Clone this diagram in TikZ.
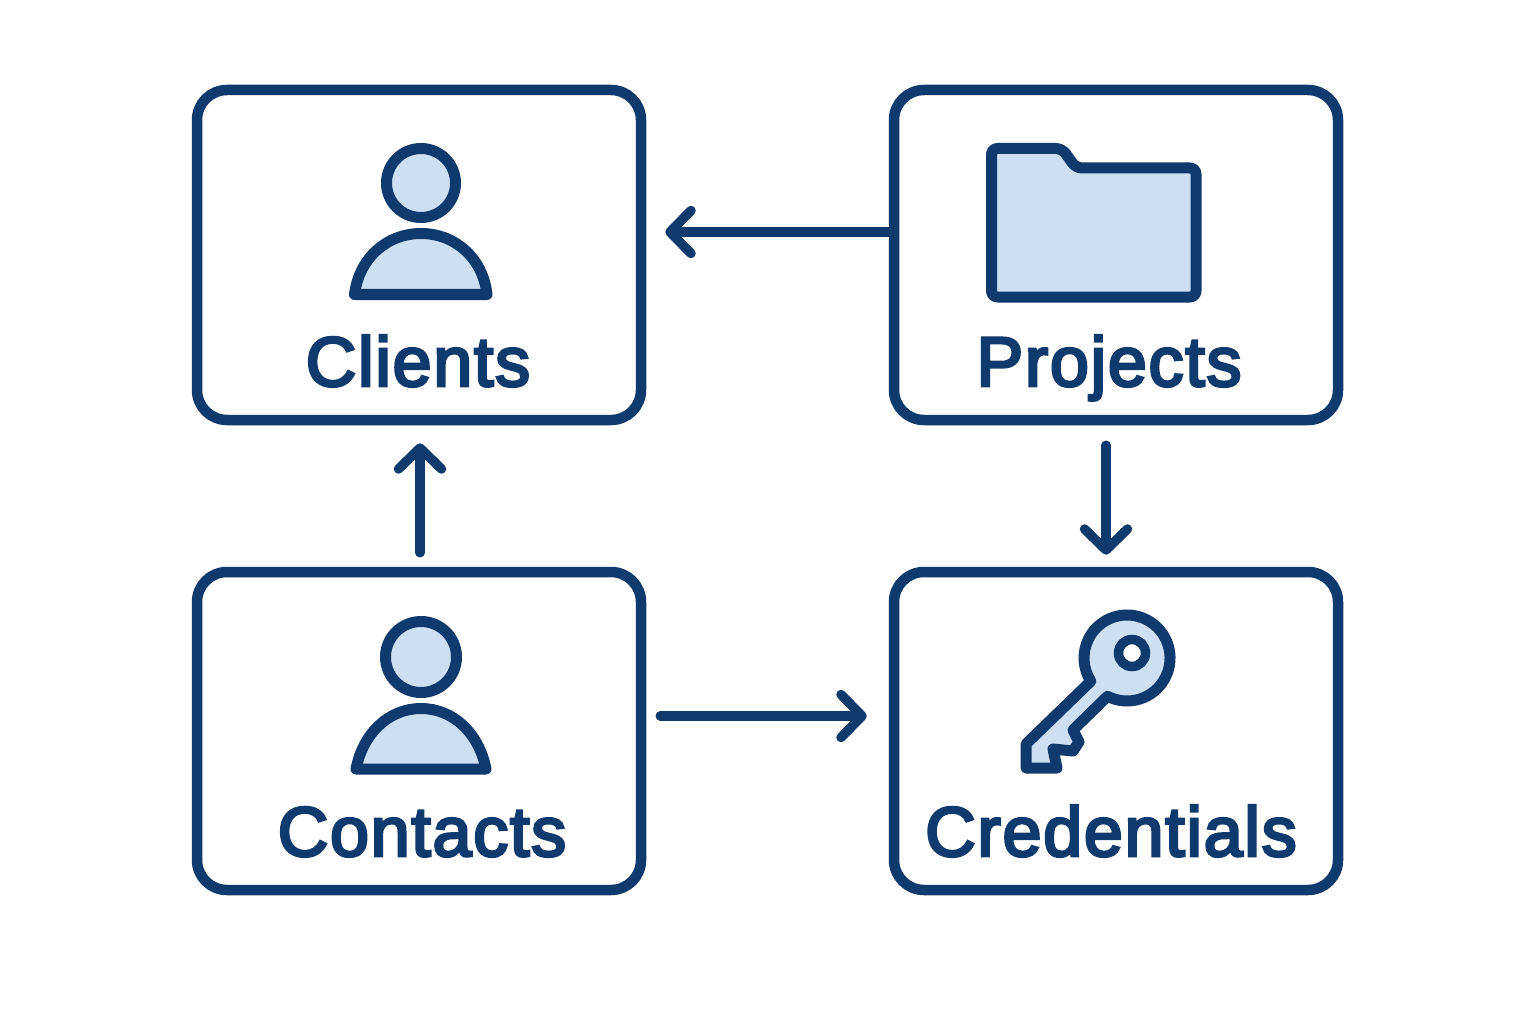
\documentclass[tikz,border=0pt]{standalone}
\usepackage{xcolor}
\usepackage{fontspec}
\setmainfont{Liberation Sans}[FakeBold=4,LetterSpace=2.5]
\usepackage{tikz}
\usetikzlibrary{arrows.meta}

\definecolor{navy}{HTML}{0F3A6E}
\definecolor{pale}{HTML}{CCDFF3}

\begin{document}
\begin{tikzpicture}[x=1pt,y=-1pt]
		\tikzstyle{box_node}=[draw=navy,line width=10.5pt,fill=white,minimum width=444pt,rounded corners=30pt]
		\tikzstyle{node_text}=[text=navy,anchor=base,inner sep=0pt,font=\fontsize{70}{70}\selectfont]
		\tikzstyle{icon}=[draw=navy,fill=pale,line width=11pt,line join=round]
		\tikzstyle{arrow}=[draw=navy,line width=9.5pt,line cap=round,line join=round,-{Straight Barb[length=21pt,width=43pt,round]}]

		\useasboundingbox (0,0) rectangle (1536,1024);
		\fill[white] (0,0) rectangle (1536,1024);

		\node (clients) [box_node,minimum height=330pt] at (419,255) {};
		\node (projects) [box_node,minimum height=330pt] at (1116,255) {};
		\node (contacts) [box_node,minimum height=318pt] at (419,731) {};
		\node (credentials) [box_node,minimum height=318pt] at (1116,731) {};

		\node (clients_text) [node_text] at (418,386) {Clients};
		\node (projects_text) [node_text] at (1109,386) {Projects};
		\node (contacts_text) [node_text] at (422,856) {Contacts};
		\node (credentials_text) [node_text] at (1111,856) {Credentials};

		% people
		\draw[icon] (421,183) circle [radius=34.5pt];
		\draw[icon] (354.5,294.5) .. controls (359,258) and (387,233.5) .. (421,233.5) .. controls (455,233.5) and (483,258) .. (487,294.5) -- cycle;
		\draw[icon] (421,657) circle [radius=35.5pt];
		\draw[icon] (356,769) .. controls (363,733) and (389,708.5) .. (421,708.5) .. controls (453,708.5) and (479,733) .. (486,769) -- cycle;

		% folder
		\draw[icon,rounded corners=6pt] (991.5,148.5) -- (1062,148.5) -- (1076,168) -- (1196,168) -- (1196,297) -- (991.5,297) -- cycle;

		% key
		\draw[icon] (1107.5,696.3) arc [start angle=243,end angle=572.7,radius=43pt] -- (1026,744) -- (1026,768) -- (1057,768) -- (1053,749) -- (1073,751) -- (1079,742) -- (1073,730) -- cycle;
		\draw[navy,fill=white,line width=9.5pt] (1132,653) circle [radius=13.5pt];

		% arrows
		\draw[arrow,line cap=butt,shorten >=19pt] ([yshift=23pt]projects.west) -- ([yshift=23pt]clients.east);
		\draw[arrow,shorten <=14pt,shorten >=18pt] ([xshift=1pt]contacts.north) -- ([xshift=1pt]clients.south);
		\draw[arrow,shorten <=20pt,shorten >=12pt] ([xshift=-10pt]projects.south) -- ([xshift=-10pt]credentials.north);
		\draw[arrow,shorten <=14pt,shorten >=22pt] ([yshift=15pt]contacts.east) -- ([yshift=15pt]credentials.west);
	\end{tikzpicture}
\end{document}
